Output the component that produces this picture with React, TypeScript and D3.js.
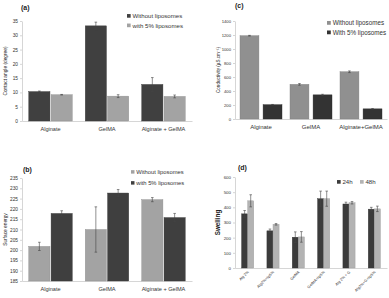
import React, { useEffect, useRef } from "react";
import * as d3 from "d3";

// panel (a) contact angle
const catsA = ["Alginate", "GelMA", "Alginate + GelMA"];
const seriesA = ["Without liposomes", "with 5% liposomes"];
const contactNoLip = [10.3, 33.3, 12.8];
const contactLip = [9.2, 8.7, 8.6];
const contactNoLipErr = [0.2, 1.3, 2.4];
const contactLipErr = [0.1, 0.5, 0.5];

// panel (b) surface energy
const catsB = ["Alginate", "GelMA", "Alginate + GelMA"];
const seriesB = ["Without liposomes", "with 5% liposomes"];
const energyNoLip = [201.8, 210, 224.5];
const energyLip = [217.8, 227.7, 215.8];
const energyNoLipErr = [2, 11, 1];
const energyLipErr = [1.3, 1.7, 2];

// panel (c) conductivity
const catsC = ["Alginate", "GelMA", "Alginate+GelMA"];
const seriesC = ["Without liposomes", "With 5% liposomes"];
const condNoLip = [1190, 495, 675];
const condLip = [205, 345, 145];
const condNoLipErr = [5, 12, 12];
const condLipErr = [3, 8, 4];

// panel (d) swelling
const catsD = ["Alg 2%", "Alg2%+lip5%", "GelMA", "GelMA+lip5%", "Alg 2% + G", "Alg2%+G+lip5%"];
const seriesD = ["24h", "48h"];
const swell24 = [357, 245, 203, 457, 422, 388];
const swell48 = [443, 288, 205, 457, 430, 390];
const swell24Err = [22, 12, 35, 50, 12, 12];
const swell48Err = [40, 5, 35, 50, 8, 18];

const FONT = "'Liberation Sans', Arial, sans-serif";

interface Panel {
  title: string;
  titleX: number;
  titleY: number;
  cats: string[];
  series: string[];
  values: number[][];
  errors: number[][];
  colors: string[];
  x0: number;
  x1: number;
  yBottom: number;
  yTop: number;
  domain: [number, number];
  step: number;
  yLabel: string;
  yLabelX: number;
  yLabelSize: number;
  yLabelBold?: boolean;
  tickSize: number;
  catSize: number;
  rotateCats?: boolean;
  padIn: number;
  padOut: number;
  barPad: number;
  legend: { x: number; y: number; dy: number; dx: number; size: number };
}

const panels: Panel[] = [
  {
    title: "(a)", titleX: 21, titleY: 10,
    cats: catsA, series: seriesA,
    values: [contactNoLip, contactLip], errors: [contactNoLipErr, contactLipErr],
    colors: ["#404040", "#a3a3a3"],
    x0: 22, x1: 192, yBottom: 121, yTop: 21, domain: [0, 35], step: 5,
    yLabel: "Contact angle (degree)", yLabelX: 5.5, yLabelSize: 4.8,
    tickSize: 4.8, catSize: 5.6,
    padIn: 0.23, padOut: 0.12, barPad: 0.05,
    legend: { x: 127, y: 16, dy: 9.5, dx: 0, size: 6.1 },
  },
  {
    title: "(b)", titleX: 23, titleY: 172,
    cats: catsB, series: seriesB,
    values: [energyNoLip, energyLip], errors: [energyNoLipErr, energyLipErr],
    colors: ["#a3a3a3", "#3f3f3f"],
    x0: 22, x1: 192, yBottom: 281, yTop: 178, domain: [185, 235], step: 5,
    yLabel: "Surface energy", yLabelX: 5.5, yLabelSize: 4.8,
    tickSize: 4.8, catSize: 5.6,
    padIn: 0.23, padOut: 0.12, barPad: 0.05,
    legend: { x: 131, y: 172, dy: 11, dx: 0, size: 5.8 },
  },
  {
    title: "(c)", titleX: 235, titleY: 8,
    cats: catsC, series: seriesC,
    values: [condNoLip, condLip], errors: [condNoLipErr, condLipErr],
    colors: ["#909090", "#333333"],
    x0: 235, x1: 387, yBottom: 119, yTop: 21, domain: [0, 1400], step: 200,
    yLabel: "Conductivity (µS.cm⁻¹)", yLabelX: 218, yLabelSize: 4.6,
    tickSize: 4.2, catSize: 6,
    padIn: 0.16, padOut: 0.1, barPad: 0.18,
    legend: { x: 327, y: 23, dy: 9.5, dx: 0, size: 6.3 },
  },
  {
    title: "(d)", titleX: 238, titleY: 170,
    cats: catsD, series: seriesD,
    values: [swell24, swell48], errors: [swell24Err, swell48Err],
    colors: ["#3b3b3b", "#b3b3b3"],
    x0: 235, x1: 387, yBottom: 268, yTop: 177, domain: [0, 600], step: 100,
    yLabel: "Swelling", yLabelX: 218, yLabelSize: 6.3, yLabelBold: true,
    tickSize: 4.4, catSize: 3.8, rotateCats: true,
    padIn: 0.52, padOut: 0.26, barPad: 0,
    legend: { x: 337, y: 182, dy: 0, dx: 23, size: 6.1 },
  },
];

const App = () => {
  const ref: any = useRef(null);

  useEffect(() => {
    const svg = d3.select(ref.current);
    svg.selectAll("*").remove();

    panels.forEach((p) => {
      const g = svg.append("g");
      const x = d3.scaleBand().domain(p.cats).range([p.x0, p.x1])
        .paddingInner(p.padIn).paddingOuter(p.padOut);
      const xs = d3.scaleBand().domain(p.series).range([0, x.bandwidth()]).paddingInner(p.barPad);
      const y = d3.scaleLinear().domain(p.domain).range([p.yBottom, p.yTop]);

      // title
      g.append("text").attr("x", p.titleX).attr("y", p.titleY)
        .attr("font-family", FONT).attr("font-size", 7).attr("font-weight", "bold")
        .attr("fill", "#222").text(p.title);

      // y axis
      const ticks = d3.range(p.domain[0], p.domain[1] + p.step / 2, p.step);
      const yAxis = g.append("g").attr("transform", `translate(${p.x0},0)`)
        .call(d3.axisLeft(y).tickValues(ticks).tickFormat(d3.format("d"))
          .tickSize(2).tickSizeOuter(0).tickPadding(2));
      yAxis.select(".domain").attr("stroke", "#bbb").attr("stroke-width", 0.6);
      yAxis.selectAll(".tick line").attr("stroke", "#bbb").attr("stroke-width", 0.6);
      yAxis.selectAll("text").attr("font-family", FONT).attr("font-size", p.tickSize).attr("fill", "#333");

      // x axis
      const xAxis = g.append("g").attr("transform", `translate(0,${p.yBottom})`)
        .call(d3.axisBottom(x).tickSize(0).tickSizeOuter(0).tickPadding(p.rotateCats ? 4 : 6));
      xAxis.select(".domain").attr("stroke", "#bbb").attr("stroke-width", 0.6);
      const catText = xAxis.selectAll("text").attr("font-family", FONT)
        .attr("font-size", p.catSize).attr("fill", "#333");
      if (p.rotateCats) {
        catText.attr("text-anchor", "end").attr("dy", "0.3em")
          .attr("transform", "rotate(-45)").attr("x", -2).attr("y", 3);
      }

      // y label
      g.append("text")
        .attr("transform", `translate(${p.yLabelX},${(p.yTop + p.yBottom) / 2}) rotate(-90)`)
        .attr("text-anchor", "middle").attr("dy", "0.35em")
        .attr("font-family", FONT).attr("font-size", p.yLabelSize)
        .attr("font-weight", p.yLabelBold ? "bold" : "normal")
        .attr("fill", "#222").text(p.yLabel);

      // bars + error bars
      p.series.forEach((s, si) => {
        const data = p.cats.map((c, ci) => ({ c, v: p.values[si][ci], e: p.errors[si][ci] }));
        g.append("g").selectAll("rect").data(data).join("rect")
          .attr("x", (d) => (x(d.c) || 0) + (xs(s) || 0))
          .attr("width", xs.bandwidth())
          .attr("y", (d) => y(d.v))
          .attr("height", (d) => y(p.domain[0]) - y(d.v))
          .attr("fill", p.colors[si])
          .attr("stroke", d3.color(p.colors[si])!.darker(0.4).toString())
          .attr("stroke-width", 0.4);
        const eg = g.append("g").attr("stroke", "#444").attr("stroke-width", 0.6);
        data.forEach((d) => {
          const cx = (x(d.c) || 0) + (xs(s) || 0) + xs.bandwidth() / 2;
          eg.append("line").attr("x1", cx).attr("x2", cx)
            .attr("y1", y(d.v - d.e)).attr("y2", y(d.v + d.e));
          [d.v - d.e, d.v + d.e].forEach((v) => {
            eg.append("line").attr("x1", cx - 1.3).attr("x2", cx + 1.3)
              .attr("y1", y(v)).attr("y2", y(v));
          });
        });
      });

      // legend
      p.series.forEach((s, si) => {
        const lx = p.legend.x + si * p.legend.dx;
        const ly = p.legend.y + si * p.legend.dy;
        g.append("rect").attr("x", lx).attr("y", ly - p.legend.size * 0.32)
          .attr("width", p.legend.size * 0.6).attr("height", p.legend.size * 0.6)
          .attr("fill", p.colors[si]);
        g.append("text").attr("x", lx + p.legend.size * 0.9).attr("y", ly)
          .attr("dy", "0.35em").attr("font-family", FONT).attr("font-size", p.legend.size)
          .attr("fill", "#333").text(s);
      });
    });
  }, []);

  return (
    <svg
      ref={ref}
      width={389}
      height={298}
      viewBox="0 0 389 298"
      style={{ position: "absolute", left: 0, top: 0, background: "#fff" }}
    />
  );
};

export default App;
